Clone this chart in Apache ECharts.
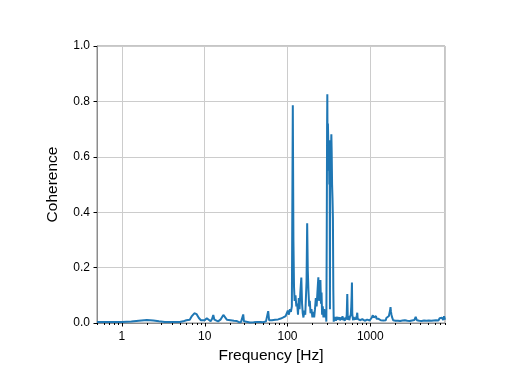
<!DOCTYPE html>
<html><head><meta charset="utf-8">
<script src="https://cdn.jsdelivr.net/npm/echarts@6/dist/echarts.min.js"></script>
<style>html,body{margin:0;padding:0;background:#fff}#c{width:512px;height:384px}</style>
</head><body><div id="c"></div>
<script>
// Low / resonance band (0.5 - 362 Hz)
var freqA = [0.5,0.6,0.8,1.0,1.3,1.6,2.0,2.4,2.8,3.3,4,5,5.5,6.0,6.3,6.6,7.0,7.5,8.0,8.5,9.0,9.5,10.0,10.6,11.2,11.8,12.3,12.7,13.1,13.8,14.5,15.5,16.8,17.6,18.5,19.5,20.5,21.5,22.5,23.5,24.5,26,27.5,28.6,29.2,29.8,31,33,35,37,39,41,43,45,47,49,51,53,55,57,58.5,60,62,65,68,71,74,77,80,83,86,89,92,95,98,101,104,107,110,113,116,118,120,122,125,128,131,134,137,140,143,147,150,153,156,160,164,167,170,173,176,179,183,186,190,195,200,205,210,215,220,225,230,236,240,244,250,254,258,262,267,272,278,284,290,295,298,301,303,305,308,311,314,317,320,323,326,328,331,335,339,342,346,350,354,358,362];
var cohA = [0.004,0.004,0.004,0.004,0.005,0.008,0.011,0.009,0.006,0.004,0.004,0.004,0.006,0.01,0.014,0.012,0.025,0.035,0.032,0.018,0.01,0.006,0.01,0.017,0.01,0.006,0.015,0.029,0.012,0.005,0.006,0.012,0.029,0.025,0.012,0.005,0.01,0.004,0.008,0.003,0.007,0.003,0.004,0.008,0.031,0.006,0.003,0.004,0.002,0.005,0.003,0.006,0.004,0.008,0.004,0.009,0.003,0.01,0.006,0.008,0.043,0.01,0.006,0.01,0.005,0.012,0.007,0.013,0.009,0.016,0.011,0.02,0.015,0.025,0.02,0.045,0.03,0.05,0.04,0.06,0.786,0.3,0.13,0.08,0.1,0.06,0.07,0.03,0.09,0.05,0.11,0.164,0.07,0.035,0.02,0.045,0.03,0.09,0.15,0.36,0.19,0.12,0.06,0.08,0.035,0.05,0.02,0.04,0.02,0.05,0.09,0.06,0.11,0.165,0.08,0.13,0.155,0.07,0.11,0.03,0.06,0.02,0.05,0.02,0.045,0.005,0.3,0.7,0.826,0.6,0.72,0.66,0.55,0.66,0.5,0.64,0.05,0.6,0.66,0.6,0.681,0.62,0.5,0.45,0.38,0.12,0.005];
// High band (366 - 8000 Hz)
var freqB = [
  366,370,375,380,385,390,395,400,405,410,
  415,420,426,432,438,444,450,456,462,468,
  474,480,486,492,498,505,512,520,528,535,
  542,550,558,566,574,582,590,596,601,607,
  614,621,628,636,644,652,660,668,676,684,
  690,697,705,714,723,732,742,752,762,772,
  782,792,802,813,824,835,846,858,870,882,
  894,906,918,931,944,957,970,984,1000,1015,
  1030,1045,1060,1075,1087,1100,1115,1130,1145,1160,
  1175,1190,1205,1220,1240,1260,1280,1300,1320,1340,
  1365,1390,1415,1440,1465,1490,1515,1540,1565,1590,
  1620,1650,1680,1710,1735,1758,1780,1805,1830,1860,
  1890,1920,1950,1985,2020,2090,2160,2230,2300,2380,
  2460,2540,2620,2710,2800,2900,3000,3100,3200,3310,
  3420,3540,3660,3780,3910,4040,4180,4320,4470,4620,
  4780,4940,5100,5280,5460,5640,5830,6030,6230,6440,
  6660,6890,7120,7360,7600,7800,8000];
var cohB = [
  0.01,0.02,0.012,0.022,0.008,0.015,0.01,0.022,0.012,0.018,
  0.008,0.012,0.02,0.01,0.016,0.009,0.02,0.012,0.025,0.01,
  0.018,0.012,0.02,0.008,0.015,0.02,0.012,0.03,0.105,0.02,
  0.012,0.025,0.01,0.02,0.013,0.03,0.06,0.1,0.146,0.03,
  0.02,0.01,0.022,0.012,0.018,0.01,0.02,0.012,0.018,0.02,
  0.028,0.037,0.015,0.01,0.016,0.009,0.014,0.01,0.015,0.008,
  0.016,0.01,0.014,0.009,0.015,0.01,0.013,0.008,0.012,0.01,
  0.013,0.008,0.012,0.009,0.013,0.008,0.012,0.009,0.011,0.015,
  0.01,0.02,0.015,0.028,0.032,0.02,0.025,0.015,0.022,0.018,
  0.025,0.015,0.022,0.012,0.02,0.015,0.02,0.012,0.018,0.01,
  0.016,0.01,0.015,0.009,0.014,0.01,0.016,0.01,0.018,0.012,
  0.02,0.015,0.025,0.03,0.045,0.057,0.04,0.03,0.022,0.015,
  0.01,0.014,0.009,0.013,0.008,0.013,0.008,0.012,0.007,0.013,
  0.009,0.016,0.01,0.014,0.008,0.012,0.007,0.013,0.009,0.014,
  0.011,0.022,0.01,0.013,0.008,0.012,0.007,0.013,0.009,0.014,
  0.008,0.013,0.009,0.015,0.008,0.013,0.009,0.014,0.01,0.015,
  0.009,0.017,0.01,0.019,0.011,0.024,0.012];
var xTickLabels = ['1','10','100','1000'];
var xTickValues = [1,10,100,1000];

var freq = freqA.concat(freqB);
var coherence = cohA.concat(cohB);

var tickPos = [];
for (var e = -1; e <= 3; e++) for (var k = 1; k <= 9; k++) {
  var v = k * Math.pow(10, e);
  if (v >= 0.5 && v <= 8000) tickPos.push([v, k === 1 ? 1 : 0]);
}

var chart = echarts.init(document.getElementById('c'), null, {renderer: 'canvas'});
var FONT = 'Liberation Sans';
chart.setOption({
  animation: false,
  grid: {left: 97, right: 67, top: 46, bottom: 61, show: true, borderColor: '#8c8c8c', borderWidth: 1, backgroundColor: 'transparent'},
  xAxis: {
    type: 'log', logBase: 10, min: 0.5, max: 8000,
    name: 'Frequency [Hz]', nameLocation: 'middle', nameGap: 24,
    nameTextStyle: {fontFamily: FONT, fontSize: 15.5, color: '#000'},
    axisLine: {show: true, lineStyle: {color: '#8c8c8c', width: 1}},
    axisTick: {show: false},
    axisLabel: {fontFamily: FONT, fontSize: 12, color: '#000', margin: 8,
      formatter: function (v) { var i = xTickValues.indexOf(Math.round(v*1000)/1000); return i >= 0 ? xTickLabels[i] : ''; }},
    splitLine: {show: true, lineStyle: {color: '#cccccc', width: 1}},
    minorTick: {show: false}
  },
  yAxis: {
    type: 'value', min: 0, max: 1, interval: 0.2,
    name: 'Coherence', nameLocation: 'middle', nameGap: 36,
    nameTextStyle: {fontFamily: FONT, fontSize: 15.5, color: '#000'},
    axisLine: {show: true, lineStyle: {color: '#8c8c8c', width: 1}},
    axisTick: {show: true, length: 3.5, lineStyle: {color: '#000'}},
    axisLabel: {fontFamily: FONT, fontSize: 12, color: '#000', margin: 7,
      formatter: function (v) { return v.toFixed(1); }},
    splitLine: {show: true, lineStyle: {color: '#cccccc', width: 1}}
  },
  series: [
    {
      type: 'line', data: freq.map(function (f, i) { return [f, coherence[i]]; }),
      showSymbol: false, symbol: 'none', lineStyle: {color: '#1f77b4', width: 2}, z: 3
    },
    {
      type: 'custom', silent: true, clip: false, z: 4,
      data: tickPos,
      renderItem: function (params, api) {
        var p = api.coord([api.value(0), 0]);
        var len = api.value(1) ? 3.5 : 2;
        return {type: 'line', shape: {x1: Math.round(p[0]) + 0.5, y1: p[1], x2: Math.round(p[0]) + 0.5, y2: p[1] + len},
          style: {stroke: '#000', lineWidth: 1}};
      }
    }
  ]
});
</script></body></html>
